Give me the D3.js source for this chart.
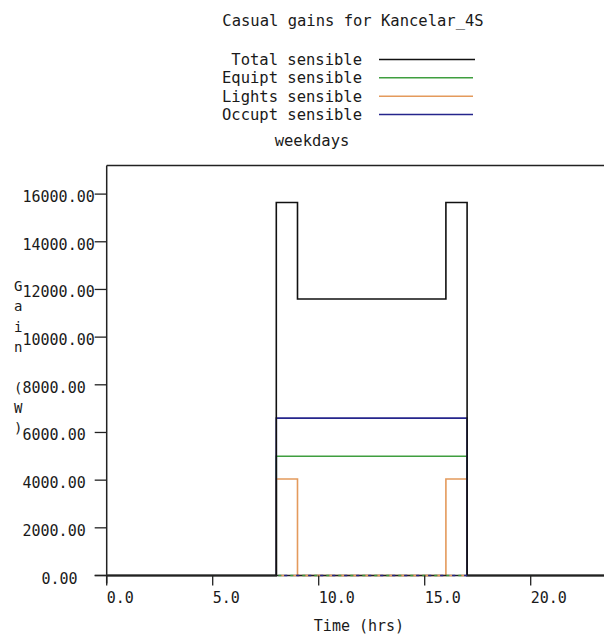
<!DOCTYPE html>
<html>
<head>
<meta charset="utf-8">
<script src="https://cdn.jsdelivr.net/npm/d3@7/dist/d3.min.js"></script>
<style>
  html, body { margin: 0; padding: 0; background: #fff; }
  svg { display: block; }
  text { font-family: "DejaVu Sans Mono", "Liberation Mono", monospace; fill: #1a1a1a; }
</style>
</head>
<body>
<script>
// Hour of day (start of each hourly period)
const hours = d3.range(0, 24);

// Casual gains per hourly period, weekdays (W)
const totalSensible  = [0,0,0,0,0,0,0,0,15650,11600,11600,11600,11600,11600,11600,11600,15650,0,0,0,0,0,0,0];
const equiptSensible = [0,0,0,0,0,0,0,0,5000,5000,5000,5000,5000,5000,5000,5000,5000,0,0,0,0,0,0,0];
const lightsSensible = [0,0,0,0,0,0,0,0,4050,0,0,0,0,0,0,0,4050,0,0,0,0,0,0,0];
const occuptSensible = [0,0,0,0,0,0,0,0,6600,6600,6600,6600,6600,6600,6600,6600,6600,0,0,0,0,0,0,0];

const seriesNames  = ["Total sensible", "Equipt sensible", "Lights sensible", "Occupt sensible"];
const seriesValues = [totalSensible, equiptSensible, lightsSensible, occuptSensible];
const seriesColors = ["#111111", "#3f9e3f", "#e49a5c", "#25258c"];

const yTicks = [0, 2000, 4000, 6000, 8000, 10000, 12000, 14000, 16000];
const xTicks = [0, 5, 10, 15, 20];
const axisLetters = ["G", "a", "i", "n", " ", "(", "W", ")"];

const W = 604, H = 637;
const svg = d3.select("body").append("svg").attr("width", W).attr("height", H);

const x = d3.scaleLinear().domain([0, 24]).range([106.7, 106.7 + 24 * 21.2]);
const y = d3.scaleLinear().domain([0, 17200]).range([575.5, 165.5]);

// Title and legend
svg.append("text").attr("x", 353).attr("y", 26).attr("text-anchor", "middle")
  .style("font-size", "15.5px").text("Casual gains for Kancelar_4S");

const legendY = [65, 83.3, 101.7, 120];
seriesNames.forEach((name, i) => {
  svg.append("text").attr("x", 362).attr("y", legendY[i]).attr("text-anchor", "end")
    .style("font-size", "15.5px").text(name);
  svg.append("line").attr("x1", 379).attr("x2", i === 0 ? 475 : 473)
    .attr("y1", legendY[i] - 5.5).attr("y2", legendY[i] - 5.5)
    .attr("stroke", seriesColors[i]).attr("stroke-width", 1.6);
});

svg.append("text").attr("x", 312).attr("y", 146).attr("text-anchor", "middle")
  .style("font-size", "15.5px").text("weekdays");

// Plot frame: left axis and top border
const g = svg.append("g");
g.append("line").attr("x1", x(0)).attr("x2", x(0)).attr("y1", y.range()[1]).attr("y2", y(0) + 8)
  .attr("stroke", "#222").attr("stroke-width", 1.5);
g.append("line").attr("x1", x(0)).attr("x2", W).attr("y1", y.range()[1]).attr("y2", y.range()[1])
  .attr("stroke", "#222").attr("stroke-width", 1.5);

// Y axis ticks and labels (fixed-column labels; the zero label sits further right)
yTicks.forEach(v => {
  g.append("line").attr("x1", x(0) - 12).attr("x2", x(0)).attr("y1", y(v)).attr("y2", y(v))
    .attr("stroke", "#222").attr("stroke-width", 1.3);
  g.append("text").attr("x", v === 0 ? 41.5 : 22.5).attr("y", y(v) + 8)
    .style("font-size", "15px").text(d3.format(".2f")(v));
});

// Y axis title, one letter per line
axisLetters.forEach((c, i) => {
  g.append("text").attr("x", 14).attr("y", 291 + i * 20.3)
    .style("font-size", "14px").text(c);
});

// Series as hourly step lines
const line = d3.line().curve(d3.curveStepAfter).x(d => x(d[0])).y(d => y(d[1]));
const drawOrder = [1, 2, 3, 0];
drawOrder.forEach(i => {
  const vals = seriesValues[i];
  const pts = hours.map(h => [h, vals[h]]).concat([[24, vals[23]]]);
  g.append("path").attr("d", line(pts)).attr("fill", "none")
    .attr("stroke", seriesColors[i]).attr("stroke-width", 1.6);
});

// X axis line, ticks and labels
g.append("line").attr("x1", x(0) - 12).attr("x2", W).attr("y1", y(0)).attr("y2", y(0))
  .attr("stroke", "#222").attr("stroke-width", 1.5);

// Series resting at zero inside the occupied period show through the axis
const occStart = hours.find(h => totalSensible[h] > 0);
const occEnd = hours.filter(h => totalSensible[h] > 0).pop() + 1;
[1, 2, 3].forEach((i, k) => {
  g.append("line").attr("x1", x(occStart)).attr("x2", x(occEnd)).attr("y1", y(0)).attr("y2", y(0))
    .attr("stroke", seriesColors[i]).attr("stroke-width", 1.6)
    .attr("stroke-dasharray", "3,9").attr("stroke-dashoffset", -3 * k - 2);
});

xTicks.forEach(v => {
  g.append("line").attr("x1", x(v)).attr("x2", x(v)).attr("y1", y(0)).attr("y2", y(0) + 10)
    .attr("stroke", "#222").attr("stroke-width", 1.3);
  g.append("text").attr("x", x(v)).attr("y", 603).attr("text-anchor", "start")
    .style("font-size", "15px").text(d3.format(".1f")(v));
});

svg.append("text").attr("x", 359).attr("y", 631).attr("text-anchor", "middle")
  .style("font-size", "15px").text("Time (hrs)");
</script>
</body>
</html>
